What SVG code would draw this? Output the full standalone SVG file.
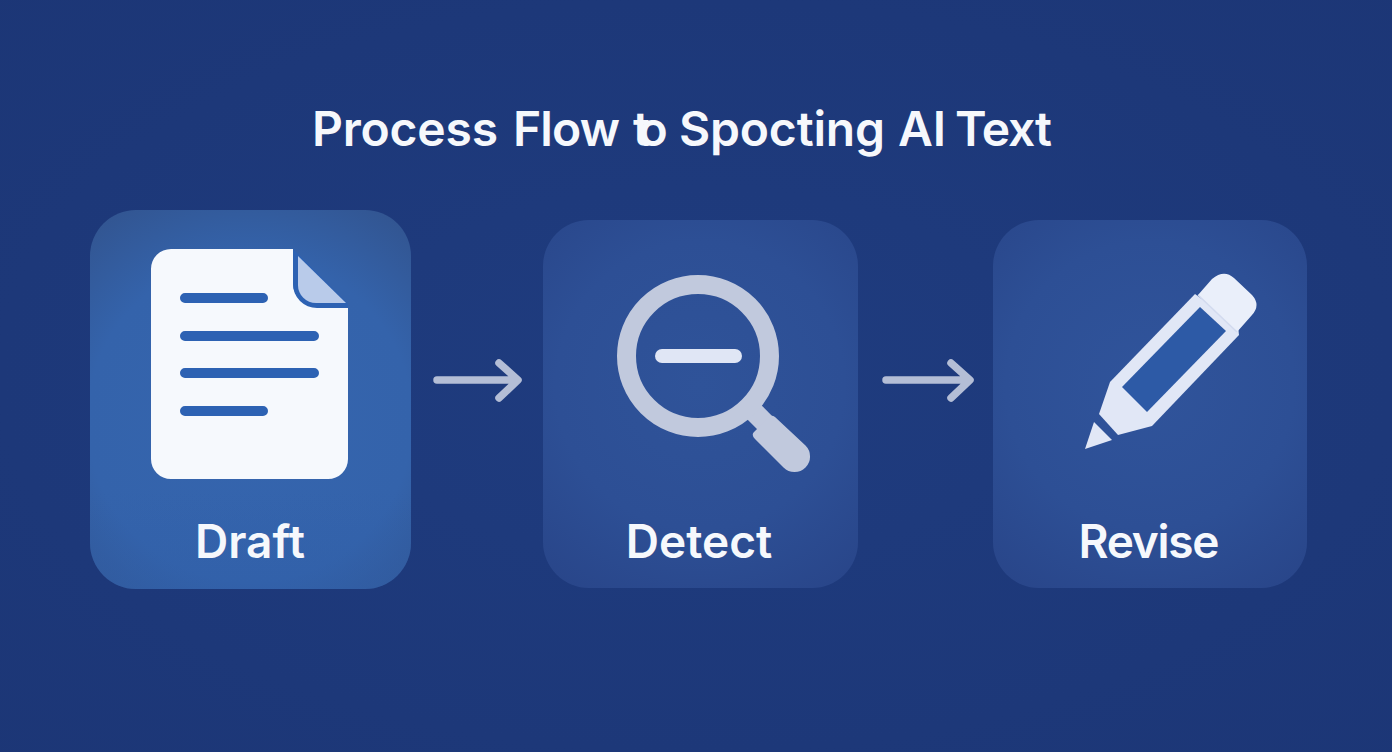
<svg xmlns="http://www.w3.org/2000/svg" width="1392" height="752" viewBox="0 0 1392 752">
<defs>
<radialGradient id="bg" cx="50%" cy="50%" r="75%"><stop offset="0" stop-color="#1f3c7f"/><stop offset="1" stop-color="#1c3676"/></radialGradient>
<radialGradient id="c1" gradientUnits="userSpaceOnUse" cx="250" cy="420" r="250"><stop offset="0" stop-color="#3565ae"/><stop offset=".65" stop-color="#3463ab"/><stop offset="1" stop-color="#325591"/></radialGradient>
<radialGradient id="c2" gradientUnits="userSpaceOnUse" cx="700" cy="385" r="240"><stop offset="0" stop-color="#2f5399"/><stop offset=".6" stop-color="#2d4f95"/><stop offset="1" stop-color="#29468a"/></radialGradient>
<radialGradient id="c3" gradientUnits="userSpaceOnUse" cx="1150" cy="385" r="240"><stop offset="0" stop-color="#30549b"/><stop offset=".6" stop-color="#2d4f95"/><stop offset="1" stop-color="#29468a"/></radialGradient>
<linearGradient id="band" x1="0" y1="0" x2="0" y2="1"><stop offset="0" stop-color="#2f5ea8" stop-opacity="0"/><stop offset="1" stop-color="#2f5ea8" stop-opacity=".85"/></linearGradient>
</defs>
<style>
text{font-family:Inter,"Liberation Sans",sans-serif;font-weight:600;fill:#f6f8fc}
.title{font-size:48px}
.label{font-size:46px;text-anchor:middle}
.line{stroke:#2d62b3;stroke-width:10;stroke-linecap:round;fill:none}
.arrow{stroke:#b4bed6;stroke-width:7.5;stroke-linecap:round;stroke-linejoin:round;fill:none}
.ring{stroke:#c1c9dd;fill:none}
</style>
<rect width="1392" height="752" fill="url(#bg)"/>
<text class="title" y="146"><tspan x="312" textLength="186">Process</tspan> <tspan x="513" textLength="107">Flow</tspan> <tspan x="633" letter-spacing="-11">to</tspan> <tspan x="679" textLength="206">Spocting</tspan> <tspan x="898" textLength="48">AI</tspan> <tspan x="955" textLength="97">Text</tspan></text>
<g id="node-draft">
<rect x="90" y="210" width="321" height="379" rx="46" fill="url(#c1)"/>
<path d="M90 490H411V543a46 46 0 0 1-46 46H136a46 46 0 0 1-46-46Z" fill="url(#band)" opacity=".5"/>
<path d="M171 249H293V283a24 24 0 0 0 24 24H348V459a20 20 0 0 1-20 20H171a20 20 0 0 1-20-20V269a20 20 0 0 1 20-20Z" fill="#f6f9fd"/>
<path d="M293 249L348 304V308H317a24 24 0 0 1-24-24Z" fill="#2d62b3"/>
<path d="M298 256L346 303H316a18 18 0 0 1-18-18Z" fill="#b9cbea"/>
<path class="line" d="M185 298H263M185 336H314M185 373H314M185 411H263"/>
<text class="label" x="250" y="558">Draft</text>
</g>
<g id="node-detect">
<rect x="543" y="220" width="315" height="368" rx="46" fill="url(#c2)"/>
<path d="M747 405L766 424" stroke="#c1c9dd" stroke-width="20"/>
<path d="M768 418Q771 414 775 417L805.500 445.500A15.500 15.500 0 0 1 783.500 467.500L755 439Q751 435 754 432Z" fill="#c1c9dd"/>
<circle class="ring" cx="698" cy="356" r="71.500" stroke-width="19"/>
<rect x="655" y="349" width="87" height="14" rx="7" fill="#e0e6f5"/>
<text class="label" x="699" y="558">Detect</text>
</g>
<g id="node-revise">
<rect x="993" y="220" width="314" height="368" rx="46" fill="url(#c3)"/>
<path d="M1195 294L1110 382L1099 414L1118 435L1152 426L1239 335L1238 326Z" fill="#e1e7f6"/>
<path d="M1200 307L1122 387L1147 412L1226 331Z" fill="#2d5aa6"/>
<path d="M1198 295L1212 279Q1224 269 1234 278L1252 295Q1261 305 1252 315L1237 332Z" fill="#eaeffa"/>
<path d="M1198 295L1237 332" stroke="#d3dbef" stroke-width="1.500" fill="none"/>
<path d="M1094 422L1112 440L1085 449Z" fill="#e1e7f6"/>
<text class="label" x="1149" y="558" textLength="141">Revise</text>
</g>
<g id="connectors">
<path class="arrow" d="M437 380H517M499 363L518 380L499 398"/>
<path class="arrow" d="M886 380H968M951 363L970 380L951 398"/>
</g>
</svg>
